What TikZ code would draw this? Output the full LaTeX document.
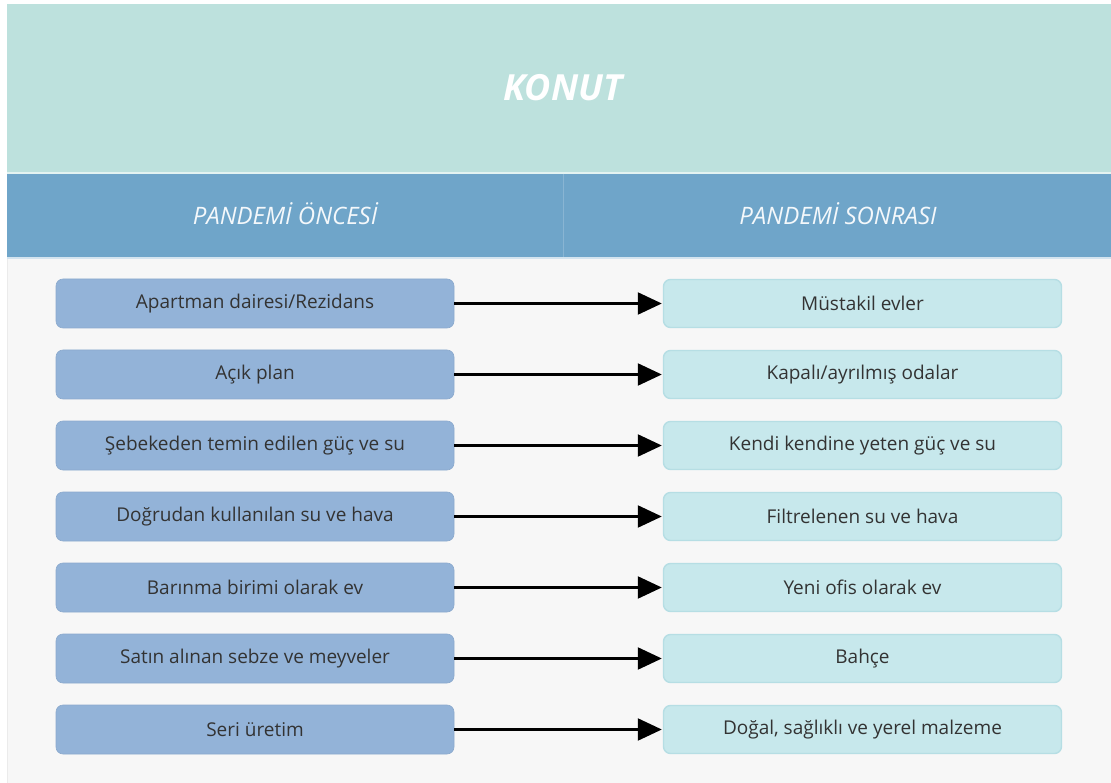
\documentclass[tikz,border=0pt]{standalone}
\usepackage{fontspec}
\setmainfont{Open Sans}
\usetikzlibrary{arrows.meta}
\definecolor{teal}{HTML}{BDE1DD}
\definecolor{hdrblue}{HTML}{6FA5C9}
\definecolor{bodybg}{HTML}{F7F7F7}
\definecolor{leftfill}{HTML}{93B3D8}
\definecolor{rightfill}{HTML}{C7E8EC}
\definecolor{rightdraw}{HTML}{B6DEE4}
\definecolor{txt}{HTML}{333333}
\tikzset{
  lbox/.style={rectangle, rounded corners=7pt, fill=leftfill, draw=leftfill!95!black, line width=0.6pt,
    minimum width=398pt, minimum height=49pt, text=txt, font=\fontsize{19}{22}\selectfont},
  rbox/.style={rectangle, rounded corners=7pt, fill=rightfill, draw=rightdraw, line width=1.4pt,
    minimum width=398pt, minimum height=48pt, text=txt, font=\fontsize{19}{22}\selectfont},
  conn/.style={line width=2.2pt, black, -{Triangle[length=24pt,width=22pt]}, shorten >=1pt},
  hdr/.style={text=white!92!hdrblue, font=\fontsize{24}{28}\selectfont\itshape}
}
\begin{document}
\begin{tikzpicture}[x=1pt,y=-1pt]
\useasboundingbox (0,0) rectangle (1111,783);
\fill[white] (0,0) rectangle (1111,783);
% body
\fill[bodybg] (7,258) rectangle (1111,783);
\draw[line width=1pt, color=black!8] (7.5,258) -- (7.5,783);
% title band
\fill[teal] (7,4) rectangle (1111,172);
\fill[white!60!teal] (7,172) rectangle (1111,174);
% header band
\fill[hdrblue] (7,174) rectangle (1111,258);
\fill[white!70!hdrblue] (7,257) rectangle (1111,259);
\draw[line width=0.8pt, color=white!18!hdrblue] (563,174) -- (563,257);
\node[text=white, font=\fontsize{36}{40}\selectfont\bfseries\itshape] (title) at (563,88) {KONUT};
\node[hdr] (h1) at (285,214) {PANDEMİ ÖNCESİ};
\node[hdr] (h2) at (838,214) {PANDEMİ SONRASI};
% rows
\foreach \i/\a/\b in {
  0/{Apartman dairesi/Rezidans}/{Müstakil evler},
  1/{Açık plan}/{Kapalı/ayrılmış odalar},
  2/{Şebekeden temin edilen güç ve su}/{Kendi kendine yeten güç ve su},
  3/{Doğrudan kullanılan su ve hava}/{Filtrelenen su ve hava},
  4/{Barınma birimi olarak ev}/{Yeni ofis olarak ev},
  5/{Satın alınan sebze ve meyveler}/{Bahçe},
  6/{Seri üretim}/{Doğal, sağlıklı ve yerel malzeme}} {
  \node[lbox] (l\i) at (255,303.5+71*\i) {\a};
  \node[rbox] (r\i) at (862.5,303.5+71*\i) {\b};
  \draw[conn] (l\i.east) -- (r\i.west);
}
\end{tikzpicture}
\end{document}
